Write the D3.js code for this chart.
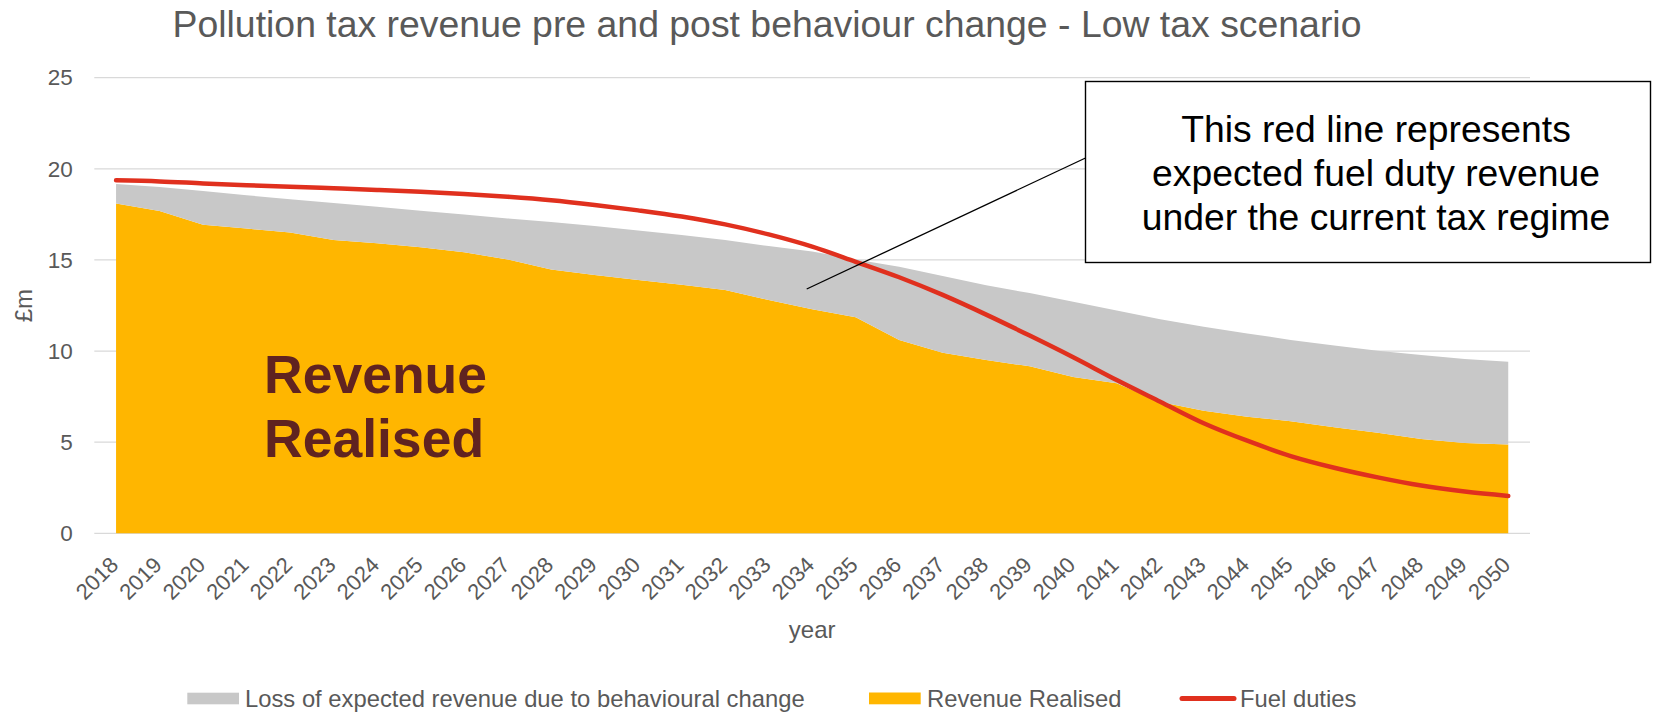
<!DOCTYPE html>
<html>
<head>
<meta charset="utf-8">
<script src="https://cdn.jsdelivr.net/npm/d3@7"></script>
<style>
  html, body { margin: 0; padding: 0; background: #ffffff; }
  svg { display: block; }
  text { font-family: "Liberation Sans", Arial, sans-serif; }
</style>
</head>
<body>
<svg id="chart" width="1653" height="712"></svg>
<script>
// Pollution tax revenue, £m per year, 2018–2050 (low tax scenario)
const years = d3.range(2018, 2051).map(String);

const revenueRealised = [
  18.10, 17.68, 16.93, 16.72, 16.50, 16.09, 15.91, 15.69, 15.42, 15.03,
  14.48, 14.17, 13.90, 13.64, 13.35, 12.80, 12.29, 11.85, 10.61, 9.91,
  9.51, 9.16, 8.58, 8.23, 7.20, 6.73, 6.40, 6.15, 5.82, 5.52,
  5.17, 4.96, 4.87
];

const lossBehaviour = [
  1.07, 1.32, 1.85, 1.83, 1.83, 2.03, 2.01, 2.01, 2.08, 2.25,
  2.60, 2.69, 2.72, 2.73, 2.74, 2.96, 3.18, 3.18, 4.02, 4.21,
  4.10, 4.02, 4.13, 3.99, 4.54, 4.61, 4.57, 4.46, 4.48, 4.50,
  4.61, 4.60, 4.55
];

const fuelDuties = [
  19.37, 19.31, 19.20, 19.10, 19.02, 18.93, 18.84, 18.74, 18.62, 18.47,
  18.28, 18.02, 17.72, 17.38, 16.95, 16.40, 15.73, 14.90, 14.05, 13.08,
  12.00, 10.85, 9.66, 8.41, 7.22, 6.04, 5.08, 4.24, 3.60, 3.07,
  2.62, 2.29, 2.05
];

const yTicks = [0, 5, 10, 15, 20, 25];

const seriesNames = {
  loss: "Loss of expected revenue due to behavioural change",
  realised: "Revenue Realised",
  fuel: "Fuel duties"
};

const colors = {
  loss: "#C8C8C8",
  realised: "#FFB600",
  fuel: "#E0301E",
  text: "#595959",
  grid: "#D9D9D9",
  label: "#602320"
};

const svg = d3.select("#chart");

const plot = { left: 94.3, right: 1530, top: 77.7, bottom: 533.3 };

const x = d3.scalePoint()
  .domain(years)
  .range([plot.left, plot.right])
  .padding(0.5);

const y = d3.scaleLinear()
  .domain([0, 25])
  .range([plot.bottom, plot.top]);

// horizontal gridlines
svg.append("g")
  .selectAll("line")
  .data(yTicks)
  .join("line")
  .attr("x1", plot.left)
  .attr("x2", plot.right)
  .attr("y1", d => y(d))
  .attr("y2", d => y(d))
  .attr("stroke", colors.grid)
  .attr("stroke-width", 1.3);

// stacked areas: realised at the bottom, loss on top
const rows = years.map((yr, i) => ({
  year: yr,
  realised: revenueRealised[i],
  loss: lossBehaviour[i]
}));

const stack = d3.stack().keys(["realised", "loss"]);
const stacked = stack(rows);

const area = d3.area()
  .x(d => x(d.data.year))
  .y0(d => y(d[0]))
  .y1(d => y(d[1]));

svg.append("g")
  .selectAll("path")
  .data(stacked)
  .join("path")
  .attr("d", area)
  .attr("fill", d => colors[d.key]);

// fuel duties line
const line = d3.line()
  .x((d, i) => x(years[i]))
  .y(d => y(d))
  .curve(d3.curveCatmullRom);

svg.append("path")
  .datum(fuelDuties)
  .attr("d", line)
  .attr("fill", "none")
  .attr("stroke", colors.fuel)
  .attr("stroke-width", 4.5)
  .attr("stroke-linecap", "round")
  .attr("stroke-linejoin", "round");

// y axis
const yAxis = svg.append("g")
  .attr("transform", `translate(${plot.left},0)`)
  .call(d3.axisLeft(y).tickValues(yTicks).tickSize(0).tickPadding(21.6));
yAxis.select(".domain").remove();
yAxis.selectAll("text")
  .attr("fill", colors.text)
  .style("font-size", "22.5px")
  .style("font-family", '"Liberation Sans", Arial, sans-serif');

// x axis with rotated year labels
const xAxis = svg.append("g")
  .attr("transform", `translate(0,${plot.bottom})`)
  .call(d3.axisBottom(x).tickSize(0));
xAxis.select(".domain").remove();
xAxis.selectAll("text")
  .attr("y", 0)
  .attr("x", 0)
  .attr("dy", null)
  .attr("text-anchor", "end")
  .attr("transform", "translate(3,33) rotate(-45)")
  .attr("fill", colors.text)
  .style("font-size", "22px")
  .style("font-family", '"Liberation Sans", Arial, sans-serif');

// title
svg.append("text")
  .attr("x", 767)
  .attr("y", 37)
  .attr("text-anchor", "middle")
  .attr("fill", colors.text)
  .style("font-size", "37.4px")
  .text("Pollution tax revenue pre and post behaviour change - Low tax scenario");

// axis titles
svg.append("text")
  .attr("transform", "translate(32,305.7) rotate(-90)")
  .attr("text-anchor", "middle")
  .attr("fill", colors.text)
  .style("font-size", "24px")
  .text("£m");

svg.append("text")
  .attr("x", (plot.left + plot.right) / 2)
  .attr("y", 638)
  .attr("text-anchor", "middle")
  .attr("fill", colors.text)
  .style("font-size", "24px")
  .text("year");

// label inside the realised area
const inner = svg.append("text")
  .attr("fill", colors.label)
  .style("font-size", "53.5px")
  .style("font-weight", "bold");
inner.append("tspan").attr("x", 264).attr("y", 393).text("Revenue");
inner.append("tspan").attr("x", 264).attr("y", 456.5).text("Realised");

// callout box with leader line
svg.append("line")
  .attr("x1", 806.7).attr("y1", 289)
  .attr("x2", 1085.5).attr("y2", 158)
  .attr("stroke", "#000")
  .attr("stroke-width", 1.3);

svg.append("rect")
  .attr("x", 1085.5).attr("y", 81.5)
  .attr("width", 565).attr("height", 181)
  .attr("fill", "#fff")
  .attr("stroke", "#000")
  .attr("stroke-width", 1.4);

const callout = svg.append("text")
  .attr("text-anchor", "middle")
  .attr("fill", "#000")
  .style("font-size", "37.3px");
[
  ["This red line represents", 141.7],
  ["expected fuel duty revenue", 185.5],
  ["under the current tax regime", 229.5]
].forEach(([t, yy]) => {
  callout.append("tspan").attr("x", 1376).attr("y", yy).text(t);
});

// legend
const legend = svg.append("g");
const legendBaseline = 706.5;
const legendFont = "23.8px";

legend.append("rect")
  .attr("x", 187.3).attr("y", 692.7).attr("width", 51.7).attr("height", 11.6)
  .attr("fill", colors.loss);
legend.append("text")
  .attr("x", 245).attr("y", legendBaseline)
  .attr("fill", colors.text).style("font-size", legendFont)
  .text(seriesNames.loss);

legend.append("rect")
  .attr("x", 869).attr("y", 692.5).attr("width", 51.7).attr("height", 11.8)
  .attr("fill", colors.realised);
legend.append("text")
  .attr("x", 927).attr("y", legendBaseline)
  .attr("fill", colors.text).style("font-size", legendFont)
  .text(seriesNames.realised);

legend.append("line")
  .attr("x1", 1182).attr("x2", 1234)
  .attr("y1", 698.6).attr("y2", 698.6)
  .attr("stroke", colors.fuel).attr("stroke-width", 5)
  .attr("stroke-linecap", "round");
legend.append("text")
  .attr("x", 1240).attr("y", legendBaseline)
  .attr("fill", colors.text).style("font-size", legendFont)
  .text(seriesNames.fuel);
</script>
</body>
</html>
